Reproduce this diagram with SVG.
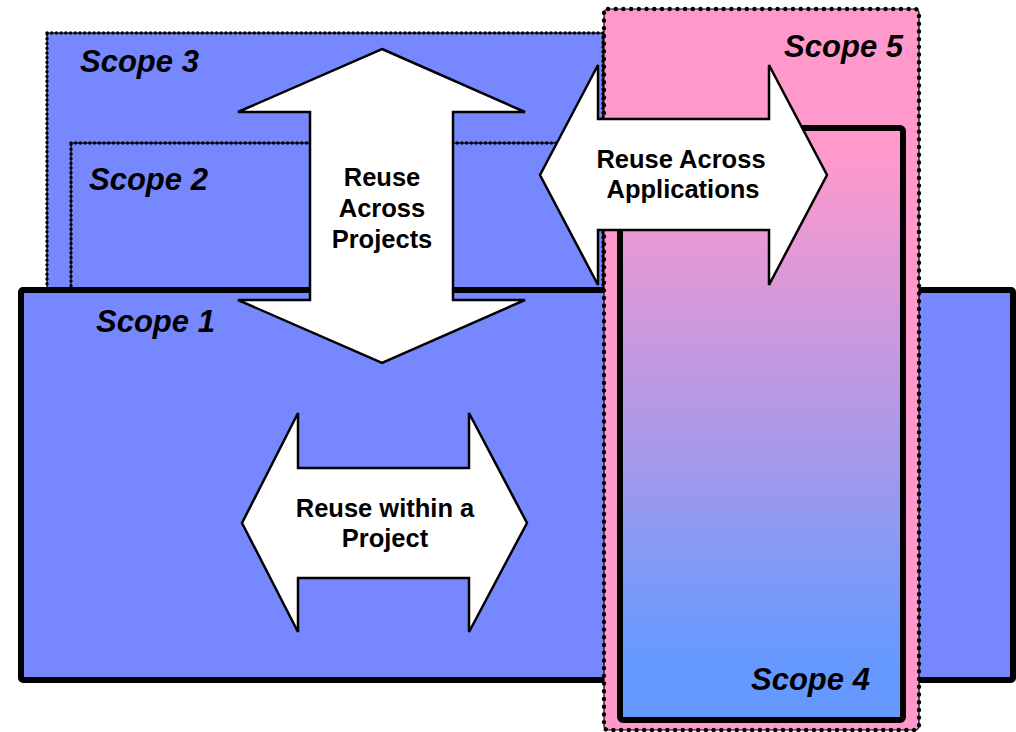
<svg xmlns="http://www.w3.org/2000/svg" width="1016" height="732" viewBox="0 0 1016 732">
<style>
.blue{fill:#7788FF}
.dotline{fill:none;stroke:#000;stroke-width:1.2}
.dots{fill:none;stroke:#000;stroke-width:3.4;stroke-linecap:round;stroke-dasharray:0.01 4.7}
.dotsbig{fill:none;stroke:#000;stroke-width:4.4;stroke-linecap:round;stroke-dasharray:0.01 7.7}
.thick{stroke:#000;stroke-width:6}
.arrow{fill:#fff;stroke:#000;stroke-width:2.5;stroke-linejoin:miter}
.lbl{font-family:"Liberation Sans",Arial,sans-serif;font-weight:bold;font-style:italic;font-size:31px;fill:#000}
.atx{font-family:"Liberation Sans",Arial,sans-serif;font-weight:bold;font-size:25.5px;fill:#000;text-anchor:middle}
</style>
<defs>
<linearGradient id="g4" x1="0" y1="0" x2="0" y2="1">
<stop offset="0.05" stop-color="#FF99CC"/>
<stop offset="0.9" stop-color="#6699FF"/>
</linearGradient>
</defs>
<g id="scope3">
<rect x="47" y="33" width="556" height="257" class="blue"/>
<rect x="47" y="33" width="556" height="257" class="dotline"/>
<rect x="47" y="33" width="556" height="257" class="dots"/>
<text x="80" y="72" class="lbl">Scope 3</text>
</g>
<g id="scope2">
<rect x="71" y="143" width="532" height="147" class="blue"/>
<rect x="71" y="143" width="532" height="147" class="dotline"/>
<rect x="71" y="143" width="532" height="147" class="dots"/>
<text x="89" y="190" class="lbl">Scope 2</text>
</g>
<g id="scope1">
<rect x="21" y="290" width="992" height="390" rx="2" class="blue thick"/>
<text x="96" y="332" class="lbl">Scope 1</text>
</g>
<g id="scope5">
<rect x="604" y="9" width="315" height="721" rx="4" fill="#FF99CC"/>
<rect x="604" y="9" width="315" height="721" rx="4" class="dotline"/>
<rect x="604" y="9" width="315" height="721" rx="4" class="dotsbig"/>
</g>
<g id="scope4">
<rect x="620" y="128" width="283" height="592" rx="3" fill="url(#g4)" class="thick"/>
<text x="751" y="690" class="lbl">Scope 4</text>
</g>
<g id="connectors">
<polygon id="arrow-projects" class="arrow" points="382,49 525,112 453,112 453,300 525,300 382,363 238,300 310,300 310,112 238,112"/>
<polygon id="arrow-project" class="arrow" points="242,523 298,413 298,468 469,468 469,413 527,523 469,632 469,578 298,578 298,632"/>
<polygon id="arrow-applications" class="arrow" points="540,175 598,65 598,119 769,119 769,65 827,175 769,285 769,230 598,230 598,285"/>
</g>
<g id="labels">
<text x="382" y="186" class="atx">Reuse</text>
<text x="382" y="217" class="atx">Across</text>
<text x="382" y="248" class="atx">Projects</text>
<text x="385" y="517" class="atx">Reuse within a</text>
<text x="385" y="547" class="atx">Project</text>
<text x="681" y="168" class="atx">Reuse Across</text>
<text x="683" y="198" class="atx">Applications</text>
<text x="903" y="57" class="lbl" text-anchor="end">Scope 5</text>
</g>
</svg>
